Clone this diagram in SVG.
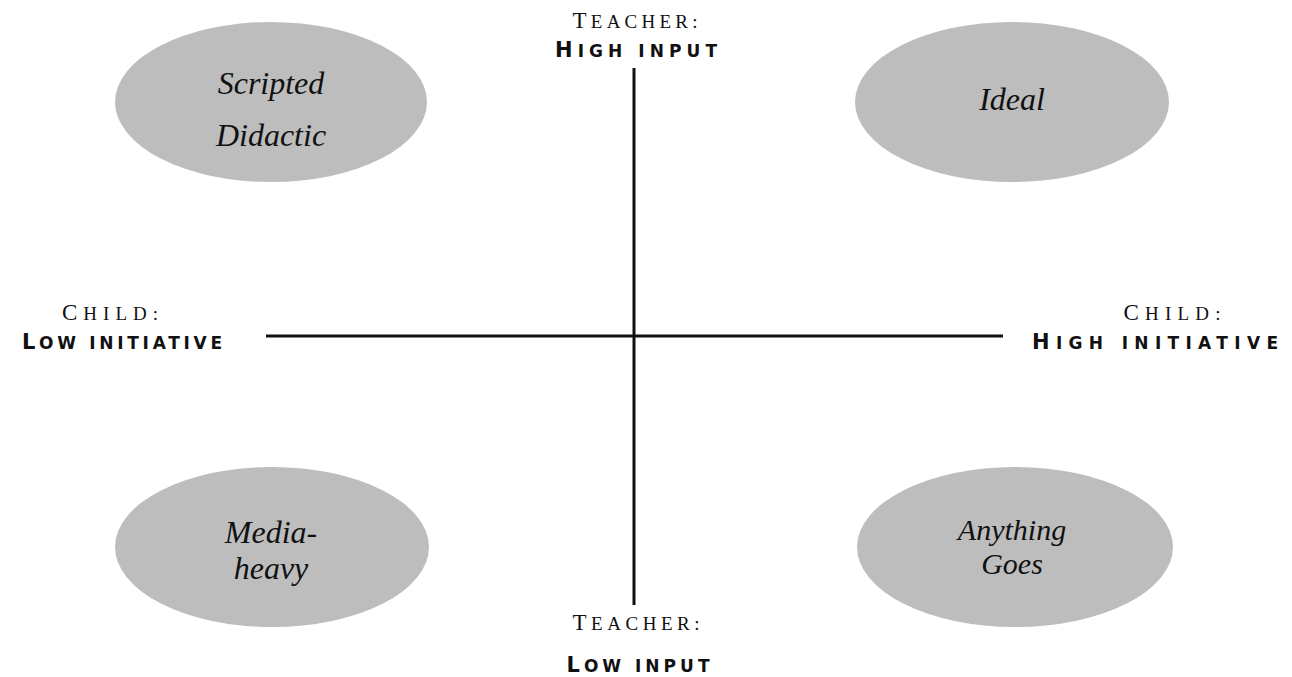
<svg xmlns="http://www.w3.org/2000/svg" width="1292" height="677" viewBox="0 0 1292 677">
<style>
.bg{fill:#ffffff}
.oval{fill:#bdbdbd}
.lbl{font-family:"Liberation Serif",serif;font-style:italic;font-size:32px;fill:#111;text-anchor:middle}
.lbl2{font-size:30px}
.cap{font-family:"Liberation Serif",serif;fill:#111;text-anchor:middle}
.big{font-size:23px}
.sm{font-size:19px}
.bold{font-family:"DejaVu Sans","Liberation Sans",sans-serif;font-weight:bold;fill:#111;text-anchor:middle}
.bbig{font-size:21px}
.bsm{font-size:17px}
.axis{stroke:#111;stroke-width:3;fill:none}
</style>
<rect class="bg" x="0" y="0" width="1292" height="677"/>
<g id="connectors">
<line class="axis" x1="634" y1="68" x2="634" y2="605"/>
<line class="axis" x1="266" y1="336" x2="1003" y2="336"/>
</g>
<g id="scripted-didactic">
<ellipse class="oval" cx="271" cy="102" rx="156" ry="80"/>
<text class="lbl" x="271" y="94">Scripted</text>
<text class="lbl" x="271" y="146">Didactic</text>
</g>
<g id="ideal">
<ellipse class="oval" cx="1012" cy="102" rx="157" ry="80"/>
<text class="lbl" x="1012" y="110">Ideal</text>
</g>
<g id="media-heavy">
<ellipse class="oval" cx="272" cy="547" rx="157" ry="80"/>
<text class="lbl" x="271" y="543">Media-</text>
<text class="lbl" x="271" y="579">heavy</text>
</g>
<g id="anything-goes">
<ellipse class="oval" cx="1015" cy="547" rx="158" ry="80"/>
<text class="lbl lbl2" x="1012" y="540">Anything</text>
<text class="lbl lbl2" x="1012" y="574">Goes</text>
</g>
<g id="teacher-high">
<text class="cap" x="635" y="28" textLength="125" lengthAdjust="spacing"><tspan class="big">T</tspan><tspan class="sm">EACHER:</tspan></text>
<text class="bold" x="636" y="57" textLength="162" lengthAdjust="spacing"><tspan class="bbig">H</tspan><tspan class="bsm">IGH INPUT</tspan></text>
</g>
<g id="teacher-low">
<text class="cap" x="636" y="630" textLength="127" lengthAdjust="spacing"><tspan class="big">T</tspan><tspan class="sm">EACHER:</tspan></text>
<text class="bold" x="638" y="672" textLength="143" lengthAdjust="spacing"><tspan class="bbig">L</tspan><tspan class="bsm">OW INPUT</tspan></text>
</g>
<g id="child-low">
<text class="cap" x="110" y="320" textLength="96" lengthAdjust="spacing"><tspan class="big">C</tspan><tspan class="sm">HILD:</tspan></text>
<text class="bold" x="122" y="349" textLength="200" lengthAdjust="spacing"><tspan class="bbig">L</tspan><tspan class="bsm">OW INITIATIVE</tspan></text>
</g>
<g id="child-high">
<text class="cap" x="1172" y="320" textLength="97" lengthAdjust="spacing"><tspan class="big">C</tspan><tspan class="sm">HILD:</tspan></text>
<text class="bold" x="1155" y="349" textLength="246" lengthAdjust="spacing"><tspan class="bbig">H</tspan><tspan class="bsm">IGH INITIATIVE</tspan></text>
</g>
</svg>
